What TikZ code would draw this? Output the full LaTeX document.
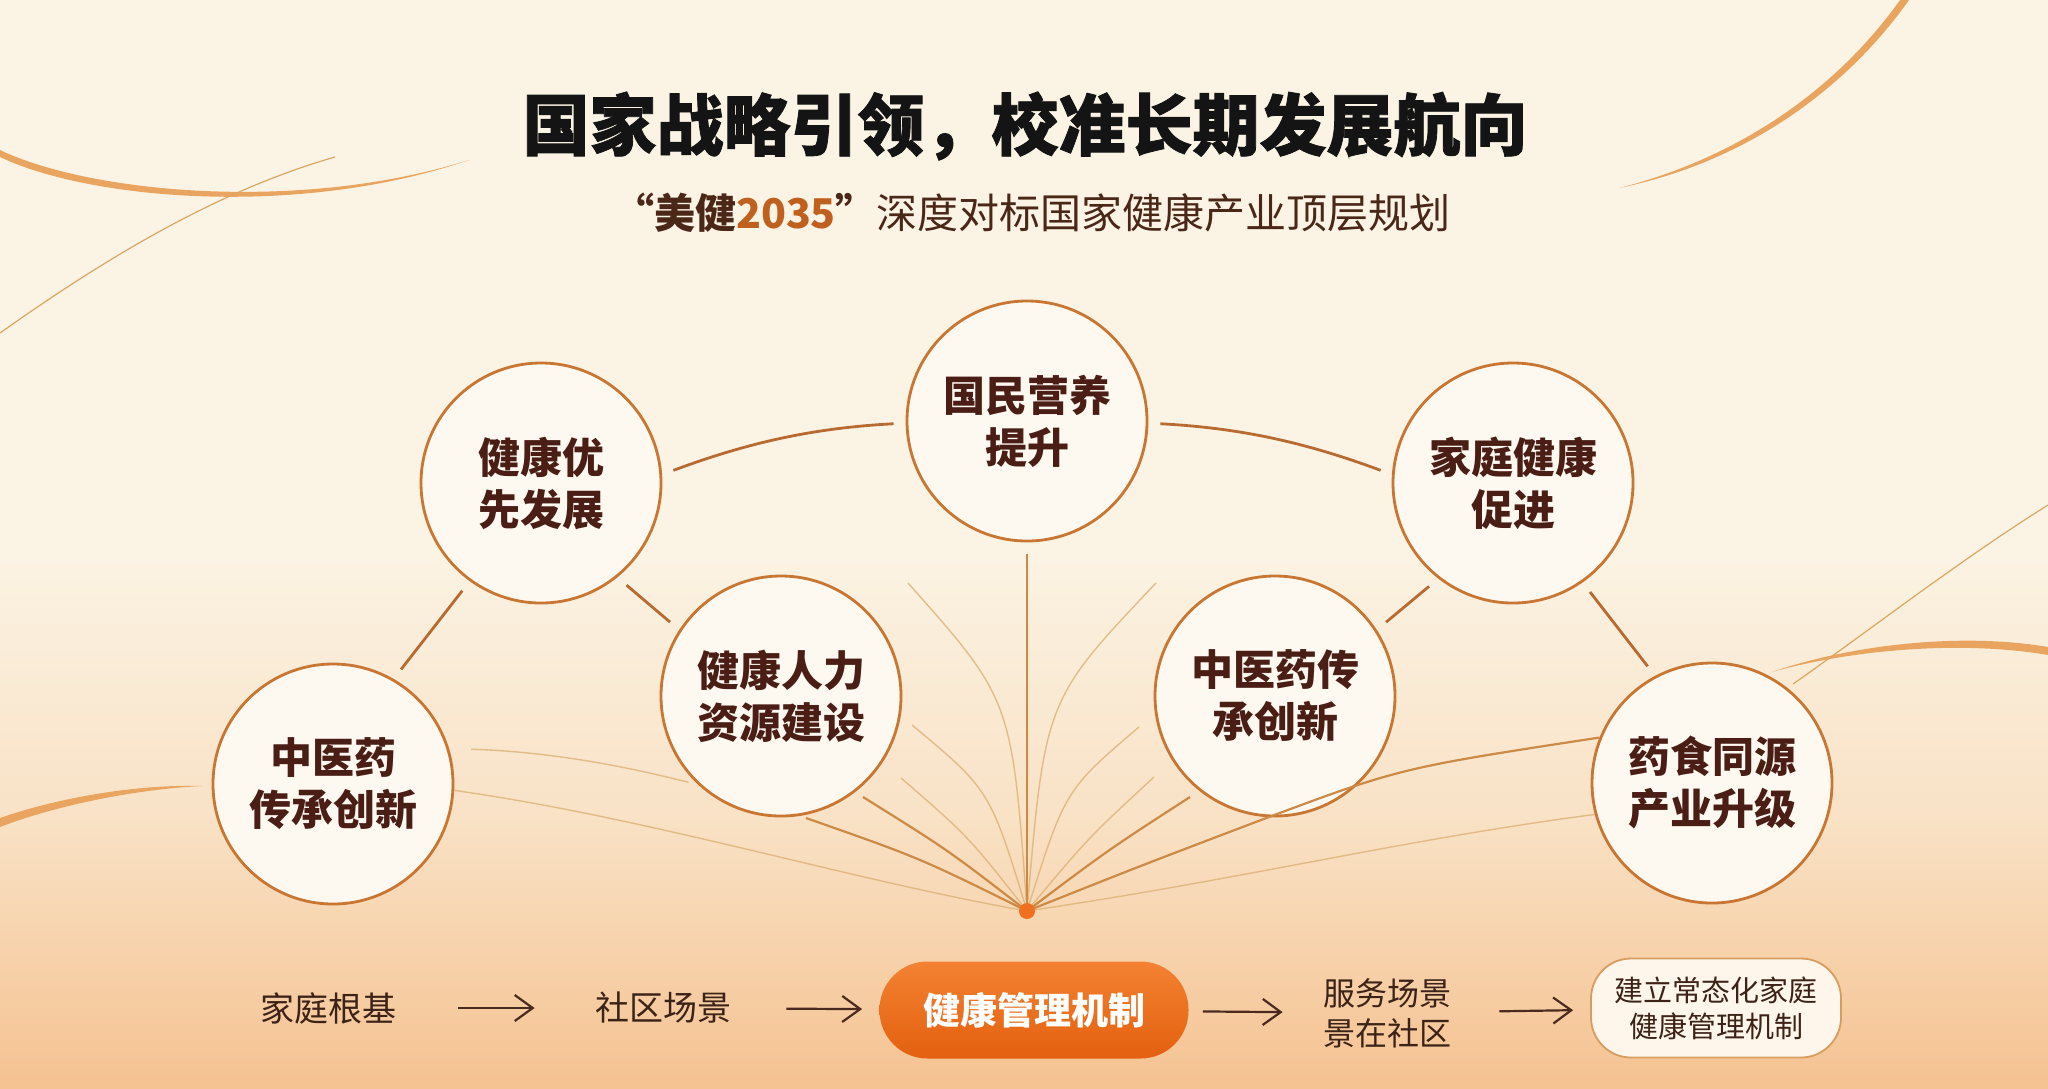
\documentclass[tikz,border=0pt]{standalone}
\usepackage{fontspec}
\setmainfont{Noto Sans CJK SC}
\newfontfamily\heavyfont{Noto Sans CJK SC}[BoldFeatures={FakeBold=1.2}]
\usetikzlibrary{arrows.meta}
\definecolor{bgTop}{HTML}{FBF4E5}
\definecolor{bgMid}{HTML}{F9E2C6}
\definecolor{bgBot}{HTML}{F5C291}
\definecolor{bubblefill}{HTML}{FEF9F0}
\definecolor{bubbleedge}{HTML}{C87632}
\definecolor{bubbletext}{HTML}{4A1D15}
\definecolor{linkcol}{HTML}{B96A30}
\definecolor{fancol}{HTML}{CD8A45}
\definecolor{fanlight}{HTML}{DDB57A}
\definecolor{dotcol}{HTML}{EE7020}
\definecolor{pillTop}{HTML}{F38232}
\definecolor{pillBot}{HTML}{E3600F}
\definecolor{boxfill}{HTML}{FEF6EA}
\definecolor{boxedge}{HTML}{D69C60}
\definecolor{flowcol}{HTML}{3C2217}
\definecolor{arrowcol}{HTML}{4A2A1E}
\definecolor{titlecol}{HTML}{141414}
\definecolor{subcol}{HTML}{4B2718}
\definecolor{accent}{HTML}{C0601F}
\definecolor{decocol}{HTML}{E9A55F}
\definecolor{decothin}{HTML}{D9A860}
\tikzset{
  bubble/.style={circle, draw=bubbleedge, line width=1.4pt, fill=bubblefill,
    minimum size=120pt, inner sep=0pt, align=center, text=bubbletext,
    font=\bfseries\fontsize{21}{26}\selectfont},
  link/.style={draw=linkcol, line width=1.4pt, shorten <=6pt, shorten >=6pt},
  fanA/.style={draw=fancol, line width=1.1pt},
  fanB/.style={draw=fanlight, line width=0.7pt, opacity=0.85},
  decoline/.style={draw=decothin, line width=0.6pt},
  flowtext/.style={text=flowcol, inner sep=0pt, font=\fontsize{17}{20}\selectfont},
  flowarrow/.style={-{Straight Barb[length=9pt, width=13pt, line width=1.1pt]}, draw=arrowcol, line width=1.1pt},
  pill/.style={rounded corners=24pt, minimum width=154.5pt, minimum height=48.5pt,
    top color=pillTop, bottom color=pillBot, draw=none, text=white, inner sep=0pt,
    font=\bfseries\fontsize{18.5}{22}\selectfont},
  finalbox/.style={rounded corners=20pt, minimum width=125pt, minimum height=49.5pt,
    draw=boxedge, line width=0.9pt, fill=boxfill, align=center, text=flowcol, inner sep=0pt,
    font=\fontsize{14.5}{18}\selectfont}
}
\begin{document}
\begin{tikzpicture}[x=0.5pt,y=-0.5pt]
\useasboundingbox (0,0) rectangle (2048,1088);
% background
\fill[bgTop] (0,0) rectangle (2048,1088);
\shade[top color=bgTop, bottom color=bgBot, middle color=bgMid] (0,540) rectangle (2048,1088);

% decorative curves
\fill[decocol] (0,150) .. controls (90,193) and (300,213) .. (469,160)
   .. controls (300,218) and (90,200) .. (0,157) -- cycle;
\draw[decoline] (0,333) .. controls (110,255) and (220,190) .. (335,157);
\fill[decocol] (1900,0) .. controls (1836,90) and (1738,158) .. (1619,188)
   .. controls (1742,163) and (1843,93) .. (1909,0) -- cycle;
\draw[decoline] (2048,505) .. controls (1960,560) and (1870,630) .. (1793,684);
\fill[decocol] (1772,672) .. controls (1850,645) and (1960,632) .. (2048,647)
   -- (2048,655) .. controls (1960,640) and (1850,650) .. (1772,672) -- cycle;
\fill[decocol] (0,818) .. controls (60,797) and (140,784) .. (202,786)
   .. controls (140,789) and (60,804) .. (0,827) -- cycle;

% bubbles
\node[bubble] (gm) at (1027,421) {国民营养\\提升};
\node[bubble] (hyg) at (541,483) {健康优\\先发展};
\node[bubble] (jt) at (1513,483) {家庭健康\\促进};
\node[bubble] (rl) at (781,696) {健康人力\\资源建设};
\node[bubble] (zr) at (1275,696) {中医药传\\承创新};
\node[bubble] (zl) at (333,784) {中医药\\传承创新};
\node[bubble] (ys) at (1712,783) {药食同源\\产业升级};

% hub and fan
\coordinate (hubpt) at (1027,911);
\coordinate (fL1) at (806,818);
\coordinate (fL2) at (863,797);
\coordinate (fL3) at (901,778);
\coordinate (fL4) at (912,725);
\coordinate (fL5) at (908,583);
\coordinate (fR1) at (1261,820);
\coordinate (fR2) at (1190,797);
\coordinate (fR3) at (1154,777);
\coordinate (fR4) at (1139,727);
\coordinate (fR5) at (1156,583);

\draw[fanB] (zl.-3) .. controls (650,818) and (850,880) .. (hubpt);
\draw[fanB] (hubpt) .. controls (1250,878) and (1400,840) .. (ys.195);
\draw[fanB, shorten <=11pt, shorten >=5pt] (zl.17) .. controls (560,752) and (640,770) .. (rl.227);
\draw[fanA] (hubpt) .. controls (920,858) .. (fL1);
\draw[fanA] (hubpt) .. controls (948,850) .. (fL2);
\draw[fanB] (hubpt) .. controls (968,836) .. (fL3);
\draw[fanB] (hubpt) .. controls (990,790) .. (fL4);
\draw[fanB] (hubpt) .. controls (1012,700) .. (fL5);
\draw[fanA] (hubpt) .. controls (1140,866) .. (fR1) .. controls (1400,768) .. (ys.158);
\draw[fanA] (hubpt) .. controls (1108,850) .. (fR2);
\draw[fanB] (hubpt) .. controls (1088,838) .. (fR3);
\draw[fanB] (hubpt) .. controls (1065,790) .. (fR4);
\draw[fanB] (hubpt) .. controls (1045,700) .. (fR5);
\draw[fanA, shorten <=6pt] (gm.south) -- (hubpt);
\node[circle, fill=dotcol, minimum size=8pt, inner sep=0pt] (hub) at (hubpt) {};

% links
\draw[link] (hyg.4) .. controls (747,443) and (812,428) .. (gm.181);
\draw[link] (gm.-1) .. controls (1242,428) and (1307,443) .. (jt.176);
\draw[link] (hyg.234) -- (zl.60);
\draw[link] (hyg.-51) -- (rl.147);
\draw[link] (jt.232) -- (zr.33);
\draw[link] (jt.-55) -- (ys.118);

% title
\node[font=\heavyfont\bfseries\fontsize{33.5}{40}\selectfont, text=titlecol] (title) at (1025,126) {国家战略引领，校准长期发展航向};
\node[font=\fontsize{20.5}{24}\selectfont, text=subcol] (sub) at (1032,213) {{\bfseries “美健\textcolor{accent}{2035}”}深度对标国家健康产业顶层规划};

% bottom flow
\node[flowtext] (s1) at (328,1008) {家庭根基};
\node[flowtext] (s2) at (663,1008) {社区场景};
\node[pill] (s3) at (1034,1010) {健康管理机制};
\node[flowtext, align=center, font=\fontsize{16}{20}\selectfont] (s4) at (1387,1013) {服务场景\\景在社区};
\node[finalbox] (s5) at (1716,1008) {建立常态化家庭\\健康管理机制};
\draw[flowarrow, shorten <=31pt, shorten >=30pt] (s1) -- (s2);
\draw[flowarrow, shorten <=27.5pt, shorten >=8.5pt] (s2) -- (s3);
\draw[flowarrow, shorten <=7pt, shorten >=20pt] (s3) -- (s4);
\draw[flowarrow, shorten <=24pt, shorten >=8.5pt] (s4) -- (s5);
\end{tikzpicture}
\end{document}
